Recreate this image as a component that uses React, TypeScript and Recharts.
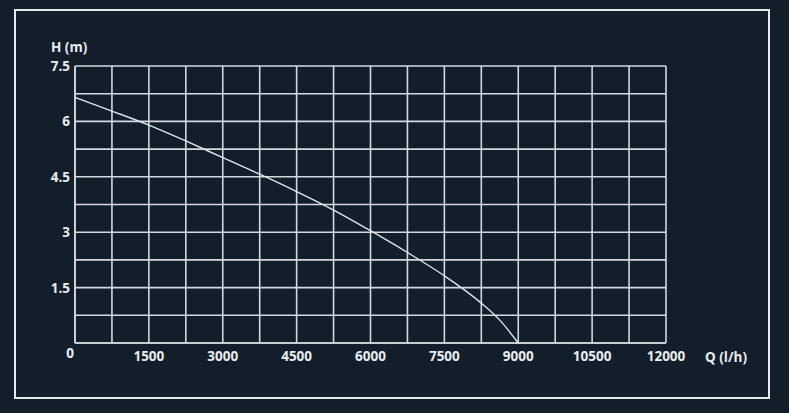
import React from "react";
import { LineChart, Line, XAxis, YAxis, CartesianGrid } from "recharts";

// pump curve: delivery head vs flow
const flowRates = [0, 750, 1500, 2250, 3000, 3750, 4500, 5250, 6000, 6750, 7500, 8250, 8625, 9000];
const heads = [6.65, 6.28, 5.9, 5.47, 5.02, 4.57, 4.1, 3.6, 3.04, 2.45, 1.82, 1.08, 0.62, 0];

const xTicks = [0, 750, 1500, 2250, 3000, 3750, 4500, 5250, 6000, 6750, 7500, 8250, 9000, 9750, 10500, 11250, 12000];
const yTicks = [0, 0.75, 1.5, 2.25, 3, 3.75, 4.5, 5.25, 6, 6.75, 7.5];

const data = flowRates.map((q, i) => ({ q, h: heads[i] }));

const BG = "#131e2b";
const INK = "#e9edf1";
const GRID = "#d3d8de";
const FONT = "'Open Sans', sans-serif";
const FS = 13.5;

const XTick = (props: any) => {
  const { x, y, payload } = props;
  const v = payload.value;
  if (v % 1500 !== 0) return null;
  if (v === 0) {
    return (
      <text x={x - 5} y={y + 15} textAnchor="middle" fill={INK} fontSize={FS} fontWeight={700} fontFamily={FONT}>
        0
      </text>
    );
  }
  return (
    <text x={x} y={y + 18} textAnchor="middle" fill={INK} fontSize={FS} fontWeight={700} fontFamily={FONT}>
      {v}
    </text>
  );
};

const YTick = (props: any) => {
  const { x, y, payload } = props;
  const v = payload.value;
  if (v === 0 || (v * 2) % 3 !== 0) return null;
  return (
    <text x={x - 5} y={y + 5} textAnchor="end" fill={INK} fontSize={FS} fontWeight={700} fontFamily={FONT}>
      {v}
    </text>
  );
};

export default function App() {
  return (
    <div style={{ position: "fixed", left: 0, top: 0, width: 789, height: 413, background: BG }}>
      <div
        style={{
          position: "absolute",
          left: 14,
          top: 9,
          width: 752,
          height: 386,
          border: "2px solid #e6eaee",
        }}
      />
      <div style={{ position: "absolute", left: 0, top: 0 }}>
        <LineChart width={789} height={413} data={data} margin={{ top: 66, right: 123, left: 0, bottom: 0 }}>
          <CartesianGrid stroke={GRID} strokeWidth={1.6} />
          <XAxis
            dataKey="q"
            type="number"
            domain={[0, 12000]}
            ticks={xTicks}
            interval={0}
            height={70}
            tickSize={0}
            tickMargin={0}
            axisLine={{ stroke: GRID, strokeWidth: 1.6 }}
            tickLine={false}
            tick={<XTick />}
          />
          <YAxis
            type="number"
            domain={[0, 7.5]}
            ticks={yTicks}
            interval={0}
            width={75}
            tickSize={0}
            tickMargin={0}
            axisLine={{ stroke: GRID, strokeWidth: 1.6 }}
            tickLine={false}
            tick={<YTick />}
          />
          <Line
            type="monotone"
            dataKey="h"
            stroke="#dfe4ea"
            strokeWidth={1.4}
            dot={false}
            isAnimationActive={false}
          />
          <text x={51} y={52} fill={INK} fontSize={FS} fontWeight={700} fontFamily={FONT}>
            H (m)
          </text>
          <text x={705} y={362} fill={INK} fontSize={FS} fontWeight={700} fontFamily={FONT}>
            Q (l/h)
          </text>
        </LineChart>
      </div>
    </div>
  );
}
